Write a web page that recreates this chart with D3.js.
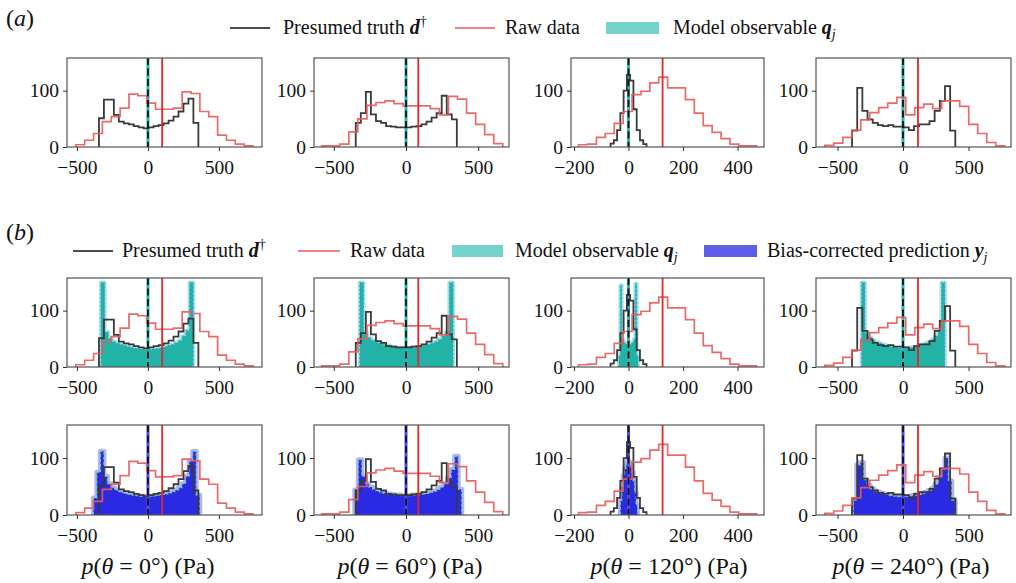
<!DOCTYPE html>
<html>
<head>
<meta charset="utf-8">
<script src="https://cdn.jsdelivr.net/npm/d3@7"></script>
<style>
  body { margin: 0; background: #fff; }
  text { font-family: "Liberation Serif", "Times New Roman", serif; fill: #111; }
</style>
</head>
<body>
<div id="main"></div>
<script>
// panels: pressure at four angles
var panelAngles = [0, 60, 120, 240];
var xDomains = [[-570, 803], [-637, 713], [-211, 497], [-664, 824]];
var xTicks = [[-500, 0, 500], [-500, 0, 500], [-200, 0, 200, 400], [-500, 0, 500]];
var yTicks = [0, 100];
var yMax = 158;

// raw data histograms (red)
var rawStart = [-508, -584, -183, -597];
var rawWidth = [62.4, 62.7, 32.65, 68.65];
var rawCounts = [
  [4, 12, 24, 45, 54, 69, 94, 91, 78, 67, 67, 69, 98, 95, 63, 54, 21, 12, 5, 2],
  [2, 2, 5, 27, 50, 74, 79, 82, 77, 73, 73, 73, 68, 57, 90, 85, 60, 40, 22, 6],
  [4, 5, 17, 24, 42, 63, 93, 99, 114, 124, 105, 105, 84, 60, 38, 26, 15, 5, 2, 2],
  [3, 7, 17, 30, 48, 61, 70, 78, 88, 57, 70, 76, 68, 82, 82, 72, 40, 24, 8, 2]
];
var rawMean = [100, 85, 125, 114];

// presumed truth histograms (black)
var truthStart = [-345, -348, -66, -389];
var truthWidth = [35, 35, 12, 39.4];
var truthCounts = [
  [51, 84, 84, 57, 45, 42, 40, 37, 35, 33, 35, 37, 39, 42, 47, 54, 63, 77, 86, 43],
  [43, 60, 98, 58, 46, 43, 37, 36, 35, 35, 35, 36, 37, 40, 45, 52, 60, 91, 58, 49],
  [6, 12, 30, 60, 100, 128, 118, 67, 30, 12, 5],
  [29, 105, 64, 49, 43, 39, 37, 39, 36, 36, 35, 30, 37, 40, 40, 46, 64, 82, 108, 29]
];

// model observable q_j histograms (teal)
var modelStart = [-331, -320, -35, -316];
var modelWidth = [26, 25.84, 5, 25.4];
var modelCounts = [
  [150, 62, 50, 45, 42, 40, 38, 36, 34, 33, 32, 31, 30, 31, 32, 33, 34, 36, 38, 40, 43, 47, 55, 65, 150],
  [150, 60, 52, 47, 44, 42, 40, 38, 36, 35, 34, 34, 33, 34, 34, 35, 36, 38, 40, 42, 45, 49, 55, 62, 150],
  [20, 145, 50, 45, 42, 40, 38, 38, 40, 42, 45, 50, 148, 20],
  [150, 60, 52, 47, 44, 42, 40, 38, 36, 35, 34, 33, 32, 33, 34, 35, 36, 38, 40, 42, 45, 49, 55, 62, 150]
];

// bias-corrected prediction y_j histograms (blue)
var biasStart = [-385, -355, -30, -379];
var biasWidth = [25, 24.7, 5.25, 25.9];
var biasCounts = [
  [30, 75, 112, 68, 55, 48, 44, 41, 39, 37, 36, 35, 34, 33, 33, 32, 33, 34, 35, 36, 37, 39, 41, 44, 48, 55, 68, 95, 112, 35],
  [44, 97, 68, 55, 49, 45, 42, 40, 38, 37, 36, 35, 35, 34, 34, 34, 35, 35, 36, 37, 38, 40, 42, 45, 49, 55, 65, 80, 103, 45],
  [25, 50, 70, 82, 90, 95, 92, 85, 75, 60, 40, 18],
  [26, 88, 92, 62, 52, 46, 42, 40, 38, 36, 35, 34, 33, 32, 32, 32, 33, 34, 35, 36, 38, 40, 43, 47, 54, 65, 80, 100, 60, 26]
];

var W = 1016, H = 583;
var lefts = [67, 314, 571, 816], rights = [262, 509, 764, 1011];
var tops = [58, 278, 425], heights = [89, 89, 90];
var labelCx = [148, 410, 669, 911];

var C = {
  red: '#e85a5c', redLine: '#e4262a', black: '#3a3a3a',
  teal: '#22b3a6', tealLight: '#74d4cb', tealHalo: '#95ddd7',
  blue: '#2a2ae2', blueLight: '#5e5ee8', blueHalo: '#a3a3f2'
};

var svg = d3.select('#main').append('svg').attr('width', W).attr('height', H);

function makeBins(start, width, counts) {
  return counts.map(function(n, i) { return {x0: start + i * width, x1: start + (i + 1) * width, n: n}; });
}
function stepPoints(b) {
  var pts = [[b[0].x0, 0]];
  b.forEach(function(d) { pts.push([d.x0, d.n]); pts.push([d.x1, d.n]); });
  pts.push([b[b.length - 1].x1, 0]);
  return pts;
}
function fmt(d) { return d < 0 ? '\u2212' + (-d) : String(d); }

function panel(row, c) {
  var w = rights[c] - lefts[c], h = heights[row];
  var g = svg.append('g').attr('transform', 'translate(' + lefts[c] + ',' + tops[row] + ')');
  var x = d3.scaleLinear().domain(xDomains[c]).range([0, w]);
  var y = d3.scaleLinear().domain([0, yMax]).range([h, 0]);
  var line = d3.line().x(function(p) { return x(p[0]); }).y(function(p) { return y(p[1]); });

  var cid = 'clip' + row + c;
  g.append('clipPath').attr('id', cid).append('rect').attr('width', w).attr('height', h);
  var plot = g.append('g').attr('clip-path', 'url(#' + cid + ')');

  if (row === 1) {
    var mp = stepPoints(makeBins(modelStart[c], modelWidth[c], modelCounts[c]));
    plot.append('path').attr('d', line(mp)).attr('fill', 'none').attr('stroke', C.tealHalo)
      .attr('stroke-width', 4).attr('stroke-linejoin', 'round').attr('opacity', 0.8);
    plot.append('path').attr('d', line(mp) + 'Z').attr('fill', C.teal);
    plot.append('path').attr('d', line(mp)).attr('fill', 'none').attr('stroke', '#3f9fdc')
      .attr('stroke-width', 1).attr('stroke-dasharray', '2,2');
  }
  if (row === 2) {
    var bp = stepPoints(makeBins(biasStart[c], biasWidth[c], biasCounts[c]));
    plot.append('path').attr('d', line(bp)).attr('fill', 'none').attr('stroke', C.blueHalo)
      .attr('stroke-width', 5).attr('stroke-linejoin', 'round').attr('opacity', 0.8);
    plot.append('path').attr('d', line(bp) + 'Z').attr('fill', C.blue);
    plot.append('path').attr('d', line(bp)).attr('fill', 'none').attr('stroke', '#6acf96')
      .attr('stroke-width', 1.2).attr('stroke-dasharray', '3,2');
  }

  // zero line of the model / prediction
  plot.append('line').attr('x1', x(0)).attr('x2', x(0)).attr('y1', 0).attr('y2', h)
    .attr('stroke', row === 2 ? '#4a4af0' : '#2ab7ae').attr('stroke-width', 3);

  var tp = stepPoints(makeBins(truthStart[c], truthWidth[c], truthCounts[c]));
  plot.append('path').attr('d', line(tp)).attr('fill', 'none').attr('stroke', C.black)
    .attr('stroke-width', 1.8);

  var rp = stepPoints(makeBins(rawStart[c], rawWidth[c], rawCounts[c]));
  plot.append('path').attr('d', line(rp)).attr('fill', 'none').attr('stroke', C.red)
    .attr('stroke-width', 1.7).attr('opacity', 0.9);

  plot.append('line').attr('x1', x(rawMean[c])).attr('x2', x(rawMean[c])).attr('y1', 0).attr('y2', h)
    .attr('stroke', C.redLine).attr('stroke-width', 1.8);
  plot.append('line').attr('x1', x(0)).attr('x2', x(0)).attr('y1', 0).attr('y2', h)
    .attr('stroke', '#111').attr('stroke-width', 1.8).attr('stroke-dasharray', '7,3.5');

  g.append('rect').attr('width', w).attr('height', h).attr('fill', 'none')
    .attr('stroke', '#555').attr('stroke-width', 1.2);

  var ya = g.append('g').call(d3.axisLeft(y).tickValues(yTicks).tickSize(4).tickPadding(4).tickFormat(fmt));
  var xa = g.append('g').attr('transform', 'translate(0,' + h + ')')
    .call(d3.axisBottom(x).tickValues(xTicks[c]).tickSize(4).tickPadding(9).tickFormat(fmt));
  [ya, xa].forEach(function(a) {
    a.select('.domain').remove();
    a.selectAll('.tick line').attr('stroke', '#333');
    a.selectAll('.tick text').style('font-family', '"Liberation Serif", serif')
      .style('font-size', '19.5px').attr('fill', '#111');
  });
}

for (var r = 0; r < 3; r++) for (var c = 0; c < 4; c++) panel(r, c);

// x labels
panelAngles.forEach(function(a, c) {
  var t = svg.append('text').attr('x', labelCx[c]).attr('y', 574).attr('text-anchor', 'middle')
    .style('font-size', '24px');
  t.append('tspan').attr('font-style', 'italic').text('p');
  t.append('tspan').text('(');
  t.append('tspan').attr('font-style', 'italic').text('\u03b8');
  t.append('tspan').text(' = ' + a + '\u00b0) (Pa)');
});

// panel tags
[['a', 26], ['b', 240]].forEach(function(p) {
  var t = svg.append('text').attr('x', 6).attr('y', p[1]).style('font-size', '24px');
  t.append('tspan').text('(');
  t.append('tspan').attr('font-style', 'italic').text(p[0]);
  t.append('tspan').text(')');
});

// legends
function lineKey(x0, x1, yy, color) {
  svg.append('line').attr('x1', x0).attr('x2', x1).attr('y1', yy).attr('y2', yy)
    .attr('stroke', color).attr('stroke-width', 1.6);
}
function patchKey(x0, x1, yy, color) {
  svg.append('rect').attr('x', x0).attr('y', yy - 6).attr('width', x1 - x0).attr('height', 12).attr('fill', color);
}
function keyText(xx, yy, label, sym, mark, sub) {
  var t = svg.append('text').attr('x', xx).attr('y', yy).style('font-size', '20px');
  t.append('tspan').text(label);
  if (sym) {
    t.append('tspan').attr('font-style', 'italic').attr('font-weight', 'bold').text(sym);
    if (sub) t.append('tspan').attr('font-style', 'italic').attr('font-size', '14px').attr('dy', 5).text(mark);
    else t.append('tspan').attr('font-size', '14px').attr('dy', -8).text(mark);
  }
}

lineKey(230, 270, 28, '#111');
keyText(283, 34, 'Presumed truth ', 'd', '\u2020', false);
lineKey(455, 495, 28, C.red);
keyText(505, 34, 'Raw data');
patchKey(606, 659, 28, C.tealLight);
keyText(673, 34, 'Model observable ', 'q', 'j', true);

lineKey(73, 113, 251, '#111');
keyText(122, 257, 'Presumed truth ', 'd', '\u2020', false);
lineKey(298, 340, 251, C.red);
keyText(350, 257, 'Raw data');
patchKey(452, 503, 251, C.tealLight);
keyText(515, 257, 'Model observable ', 'q', 'j', true);
patchKey(704, 757, 251, C.blueLight);
keyText(767, 257, 'Bias-corrected prediction ', 'y', 'j', true);
</script>
</body>
</html>
